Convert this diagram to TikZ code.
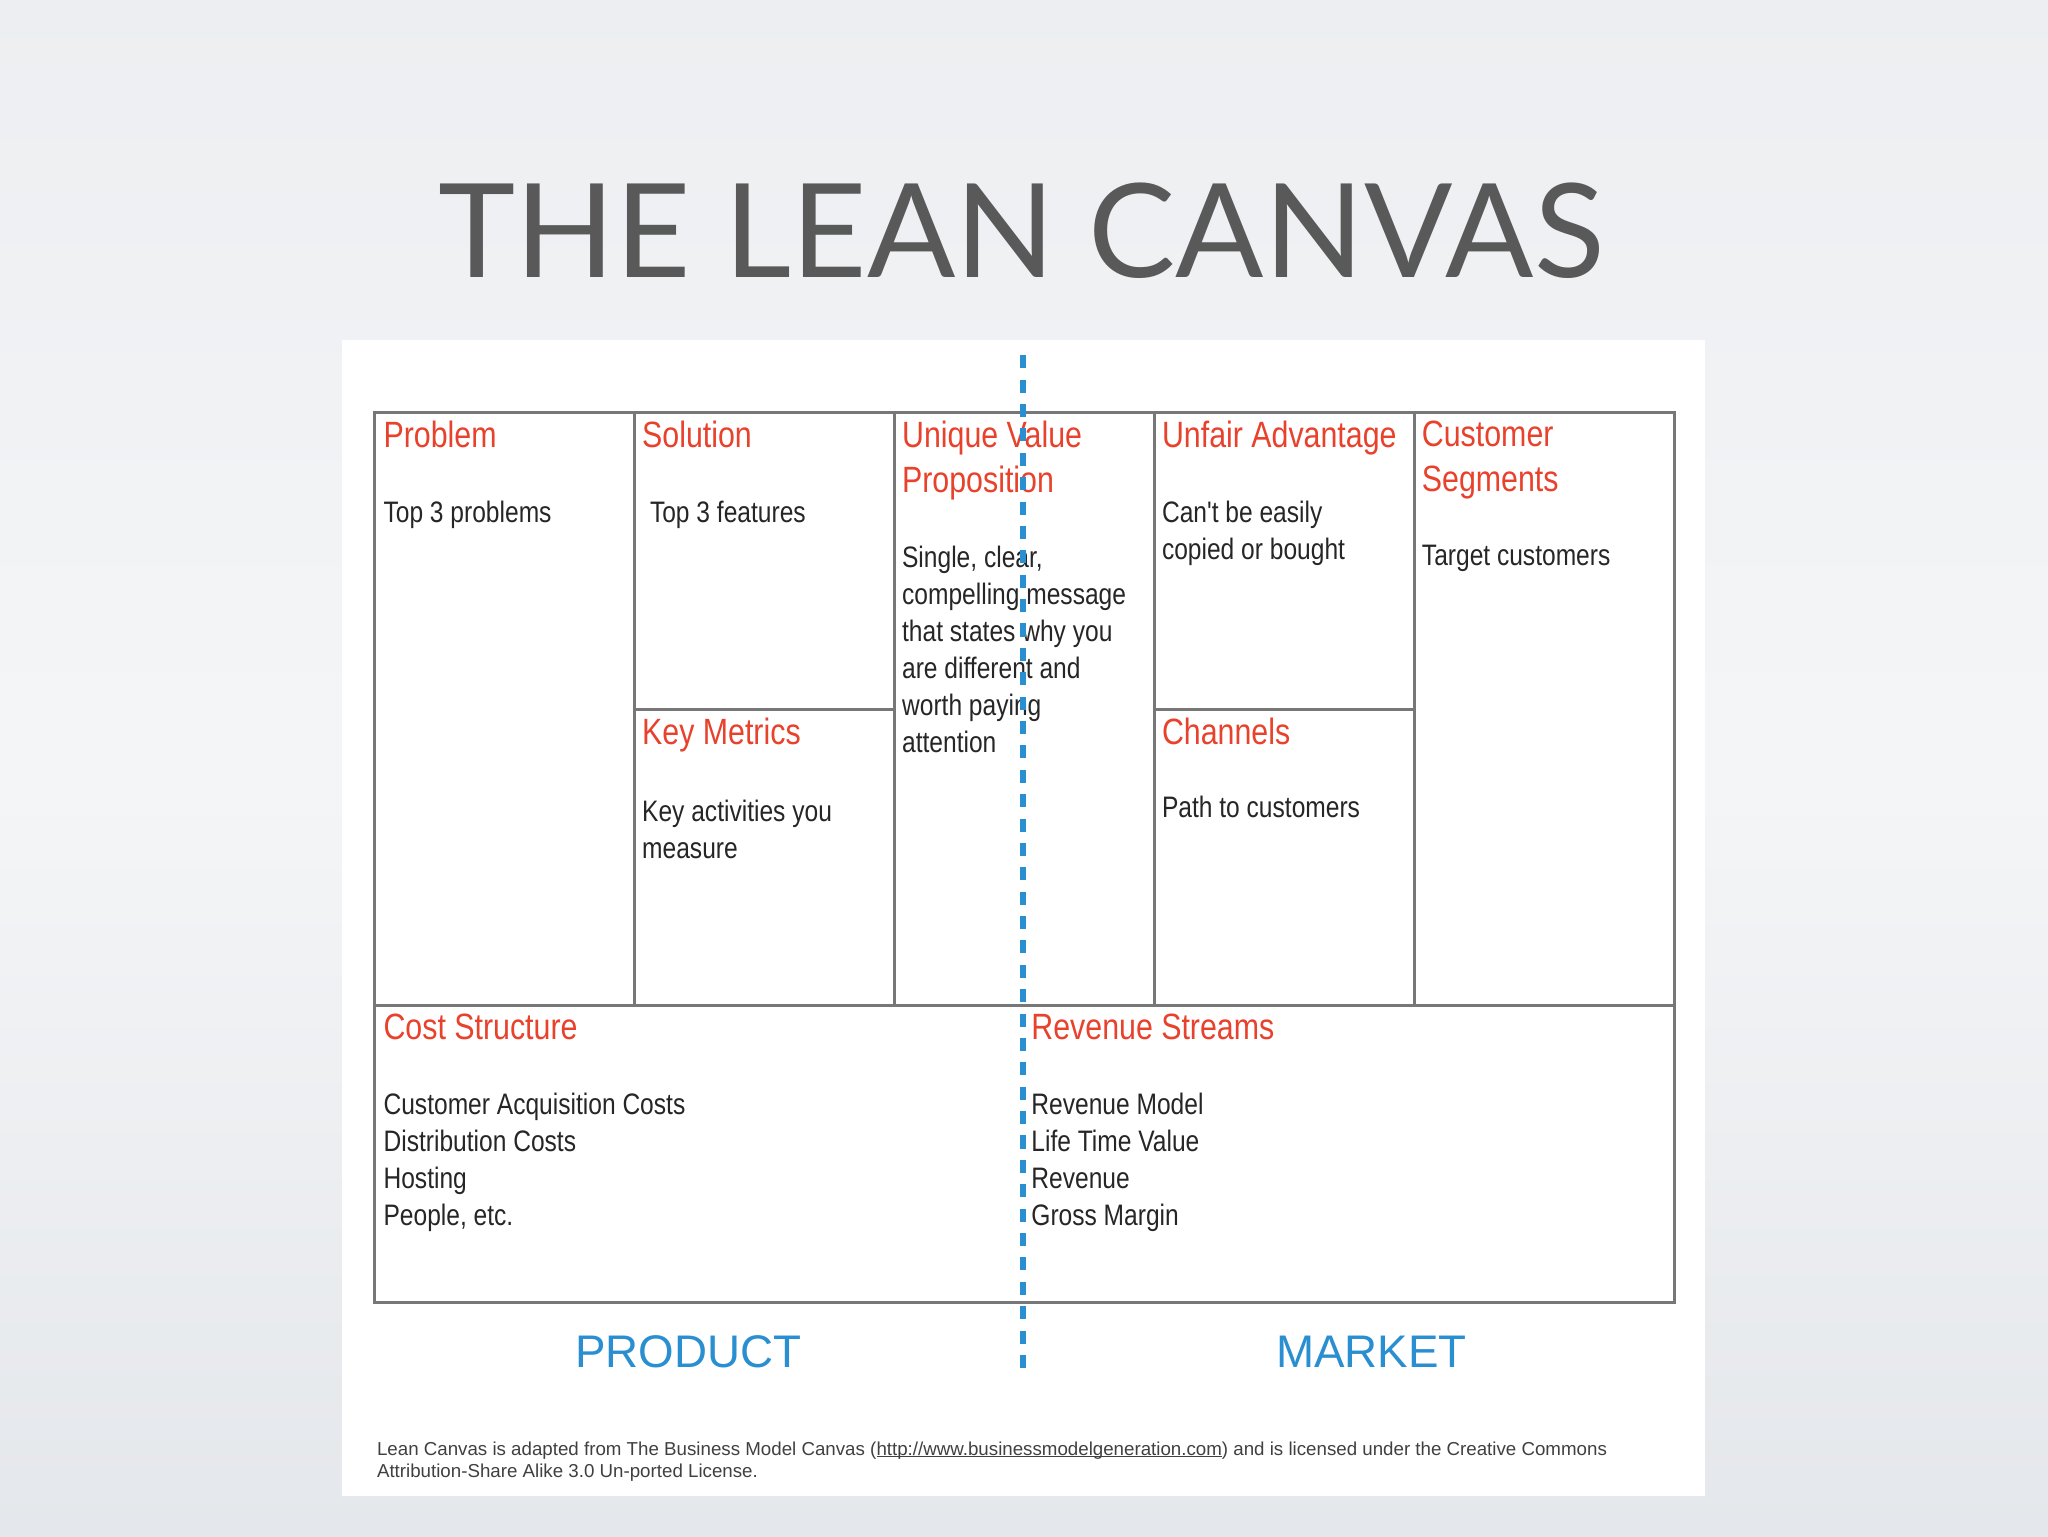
\documentclass[tikz,border=0pt]{standalone}
\usepackage{fontspec}
\setmainfont{Liberation Sans}
\newfontfamily\cond[FakeStretch=0.83]{Liberation Sans}
\newfontfamily\titlefont{Lato}
\usetikzlibrary{positioning}
\definecolor{bg}{HTML}{E4E7EB}
\definecolor{redt}{HTML}{E8412C}
\definecolor{bluet}{HTML}{2A8FD0}
\definecolor{gridc}{HTML}{777777}
\newcommand{\myul}[1]{{\setbox0\hbox{#1}\rlap{\rule[-0.45pt]{\wd0}{0.25pt}}\box0}}
\begin{document}
\begin{tikzpicture}[x=0.3pt,y=-0.3pt,
  head/.style={anchor=north west,inner sep=0pt,text=redt,font=\cond\fontsize{8.4}{10.2}\selectfont,align=left},
  body/.style={anchor=north west,inner sep=0pt,text=black!85,font=\cond\fontsize{6.8}{8.5}\selectfont,align=left},
  gridl/.style={draw=gridc,line width=0.7pt}]
\useasboundingbox (0,0) rectangle (1568,1176);
\shade[top color=bg!70,bottom color=bg,middle color=white!60!bg] (0,0) rectangle (1568,1176);
\node[text=black!65,font=\titlefont\fontsize{30}{34}\selectfont,inner sep=0pt] (title) at (782,177) {THE LEAN CANVAS};
\fill[white] (262,260) rectangle (1305,1145);
% grid
\draw[gridl] (287,316) rectangle (1282,997);
\draw[gridl] (287,770) -- (1282,770);
\draw[gridl] (486,316) -- (486,770);
\draw[gridl] (685,316) -- (685,770);
\draw[gridl] (884,316) -- (884,770);
\draw[gridl] (1083,316) -- (1083,770);
\draw[gridl] (486,543) -- (685,543);
\draw[gridl] (884,543) -- (1083,543);
% texts
\node[head] (p) at (293,322) {Problem};
\node[body] (pb) at (293,383) {Top 3 problems};
\node[head] (s) at (491,322) {Solution};
\node[body] (sb) at (497,383) {Top 3 features};
\node[head] (u) at (690,322) {Unique Value\\Proposition};
\node[body] (ub) at (690,417) {Single, clear,\\compelling message\\that states why you\\are different and\\worth paying\\attention};
\node[head] (ua) at (889,322) {Unfair Advantage};
\node[body] (uab) at (889,383) {Can't be easily\\copied or bought};
\node[head] (cs) at (1088,322) {Customer\\Segments};
\node[body] (csb) at (1088,417) {Target customers};
\node[head] (km) at (491,549) {Key Metrics};
\node[body] (kmb) at (491,612) {Key activities you\\measure};
\node[head] (ch) at (889,549) {Channels};
\node[body] (chb) at (889,609) {Path to customers};
\node[head] (cost) at (293,776) {Cost Structure};
\node[body] (costb) at (293,836) {Customer Acquisition Costs\\Distribution Costs\\Hosting\\People, etc.};
\node[head] (rev) at (789,776) {Revenue Streams};
\node[body] (revb) at (789,836) {Revenue Model\\Life Time Value\\Revenue\\Gross Margin};
% divider
\coordinate (dt) at (783,272);
\coordinate (db) at (783,1055);
\draw[bluet,line width=1.3pt,dash pattern=on 3pt off 2.6pt] (dt) -- (db);
\node[text=bluet,font=\fontsize{10.5}{12}\selectfont,inner sep=0pt] (prod) at (527,1035) {PRODUCT};
\node[text=bluet,font=\fontsize{10.5}{12}\selectfont,inner sep=0pt] (mkt) at (1050,1035) {MARKET};
\node[anchor=north west,inner sep=0pt,align=left,text=black!75,font=\fontsize{4.3}{5.1}\selectfont] (foot) at (288,1103) {Lean Canvas is adapted from The Business Model Canvas (\myul{http://www.businessmodelgeneration.com}) and is licensed under the Creative Commons\\Attribution-Share Alike 3.0 Un-ported License.};
\end{tikzpicture}
\end{document}
